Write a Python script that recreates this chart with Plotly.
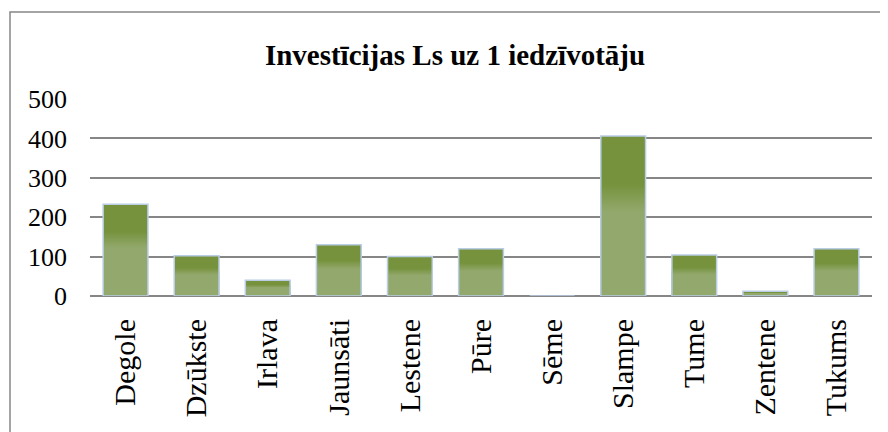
import plotly.graph_objects as go

categories = ["Degole", "Dzūkste", "Irlava", "Jaunsāti", "Lestene", "Pūre",
              "Sēme", "Slampe", "Tume", "Zentene", "Tukums"]
values = [233, 102, 40, 130, 100, 120, 0, 406, 104, 12, 120]
title_text = "Investīcijas Ls uz 1 iedzīvotāju"
y_ticks = [0, 100, 200, 300, 400, 500]

FONT = "Liberation Serif, Times New Roman, serif"

# gradient simulation: nested layers, each drawn from 0 up to a fraction of the bar
light = (146, 168, 108)
dark = (118, 146, 60)
t0, t1 = 0.53, 0.70
nsteps = 14

def mix(t):
    return "rgb(%d,%d,%d)" % tuple(round(light[i] + (dark[i] - light[i]) * t) for i in range(3))

layers = [(1.0, 1.0)]
for k in range(nsteps, 0, -1):
    top = t0 + (t1 - t0) * k / nsteps
    layers.append((top, (k - 0.5) / nsteps))
layers.append((t0, 0.0))

fig = go.Figure()
for frac, t in layers:
    fig.add_trace(go.Bar(
        x=categories,
        y=[v * frac for v in values],
        marker=dict(color=mix(t), line=dict(width=0)),
        width=0.63,
        hoverinfo="skip",
        showlegend=False,
    ))
# outline
fig.add_trace(go.Bar(
    x=categories, y=values,
    marker=dict(color="rgba(0,0,0,0)", line=dict(color="#B9CDE5", width=1.5)),
    width=0.63, showlegend=False,
))

# page has an 8px body margin; figure coordinates are offset by it
OFF = 8
W, H = 888, 432
L, R, T, B = 90 - OFF, W - (872 - OFF), 99 - OFF, H - (296 - OFF)
pw, ph = W - L - R, H - T - B

fig.update_layout(
    width=W, height=H,
    barmode="overlay",
    margin=dict(l=L, r=R, t=T, b=B, autoexpand=False),
    paper_bgcolor="white", plot_bgcolor="white",
    font=dict(family=FONT, size=26, color="black"),
    title=dict(text="<b>" + title_text + "</b>", x=(455 - OFF) / W, xref="container", xanchor="center",
               y=1 - (55 - OFF) / H, yref="container", yanchor="middle",
               font=dict(family=FONT, size=29, color="black")),
    xaxis=dict(tickangle=-90, showgrid=False, showline=False, ticks="", automargin=False,
               ticklabelstandoff=16, tickfont=dict(size=30)),
    yaxis=dict(range=[0, 500], tickvals=y_ticks, showgrid=True, gridcolor="#868686",
               gridwidth=1.5, zeroline=True, zerolinecolor="#868686", zerolinewidth=1.5,
               showline=False, ticks="", automargin=False,
               ticklabelstandoff=22, tickfont=dict(size=26)),
    shapes=[dict(type="rect", xref="paper", yref="paper",
                 x0=(10 - OFF - L) / pw, x1=(887 - L) / pw,
                 y0=(H - B - 445) / ph, y1=(H - B - (12 - OFF)) / ph,
                 line=dict(color="#868686", width=1.5), fillcolor="rgba(0,0,0,0)", layer="below")],
)

fig.write_html("out.html")
